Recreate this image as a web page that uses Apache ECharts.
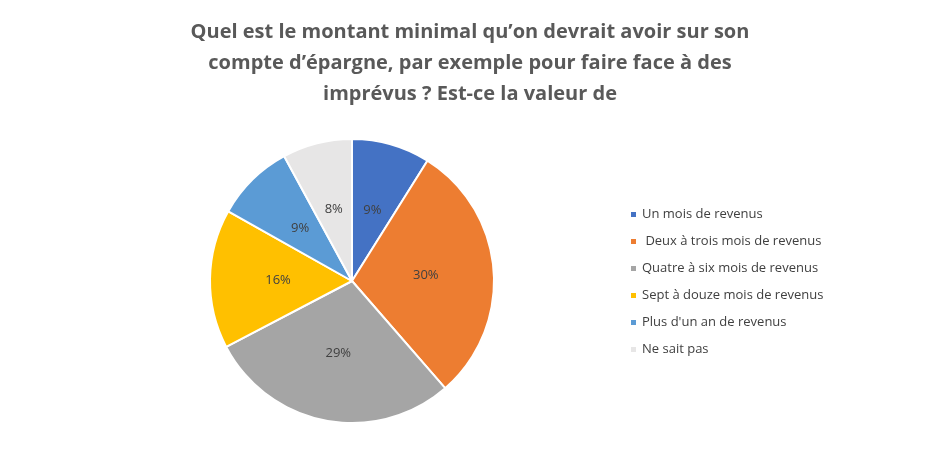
<!DOCTYPE html>
<html>
<head>
<meta charset="utf-8">
<script src="https://cdn.jsdelivr.net/npm/echarts@6/dist/echarts.min.js"></script>
<style>html,body{margin:0;padding:0;background:#fff}#chart{width:935px;height:450px}</style>
</head>
<body>
<div id="chart"></div>
<script>
var categories = ['Un mois de revenus', ' Deux à trois mois de revenus', 'Quatre à six mois de revenus', 'Sept à douze mois de revenus', "Plus d'un an de revenus", 'Ne sait pas'];
var values = [9, 30, 29, 16, 9, 8];
var colors = ['#4472C4', '#ED7D31', '#A5A5A5', '#FFC000', '#5B9BD5', '#E7E6E6'];

var chart = echarts.init(document.getElementById('chart'));
chart.setOption({
    backgroundColor: '#fff',
    color: colors,
    title: {
        text: 'Quel est le montant minimal qu\u2019on devrait avoir sur son\ncompte d\u2019épargne, par exemple pour faire face à des\nimprévus ? Est-ce la valeur de',
        left: 465,
        textAlign: 'center',
        top: 12,
        textStyle: {
            fontFamily: 'Open Sans',
            fontWeight: 'bold',
            fontSize: 20,
            lineHeight: 31,
            color: '#595959'
        }
    },
    legend: {
        orient: 'vertical',
        left: 624,
        top: 203,
        itemWidth: 7,
        itemHeight: 7,
        itemGap: 14,
        icon: 'rect',
        data: categories,
        textStyle: { fontFamily: 'Open Sans', fontSize: 13, color: '#404040' }
    },
    series: [{
        type: 'pie',
        center: [352, 281],
        radius: 142,
        startAngle: 90,
        clockwise: true,
        itemStyle: { borderColor: '#fff', borderWidth: 2 },
        label: {
            position: 'inside',
            formatter: '{c}%',
            fontFamily: 'Open Sans',
            fontSize: 13,
            color: '#404040'
        },
        labelLine: { show: false },
        data: categories.map(function (c, i) { return { name: c, value: values[i] }; })
    }]
});
</script>
</body>
</html>
